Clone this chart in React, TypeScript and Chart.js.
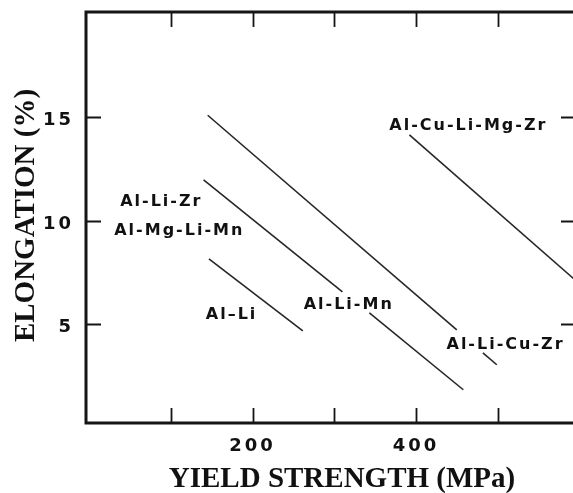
import { useEffect, useRef } from "react";
import { Chart, registerables } from "chart.js";
Chart.register(...registerables);

// Trend lines: yield strength (MPa) vs elongation (%)
const alCuLiMgZrX = [392, 600];
const alCuLiMgZrY = [14.15, 6.95];
const alLiCuZrX = [145, 450];
const alLiCuZrY = [15.1, 4.71];
const alLiCuZrTailX = [482, 499];
const alLiCuZrTailY = [3.6, 3.02];
const alLiZrX = [140, 310];
const alLiZrY = [11.97, 6.55];
const alLiMnX = [343, 458];
const alLiMnY = [5.53, 1.81];
const alLiX = [146.5, 261.5];
const alLiY = [8.15, 4.66];

// Curve labels (anchored in data units)
const labelTexts = ["Al-Cu-Li-Mg-Zr", "Al-Li-Zr", "Al-Mg-Li-Mn", "Al\u2013Li", "Al-Li-Mn", "Al-Li-Cu-Zr"];
const labelX = [463, 87, 109, 173, 316.5, 508.5];
const labelY = [14.68, 11.0, 9.6, 5.53, 6.02, 4.04];

// Axes
const xMin = -4;
const xMax = 596;
const yMin = 0.2;
const yMax = 20.1;
const xTickValues = [100, 200, 300, 400, 500];
const xTickLabels = ["", "200", "", "400", ""];
const yTickValues = [5, 10, 15];
const yTickLabels = ["5", "10", "15"];
const xTitle = "YIELD STRENGTH (MPa)";
const yTitle = "ELONGATION (%)";

function pts(xs: number[], ys: number[]) {
  return xs.map((x, i) => ({ x, y: ys[i] }));
}

function textWidth(ctx: CanvasRenderingContext2D, text: string, ls: number) {
  let w = 0;
  const chars = Array.from(text);
  chars.forEach((ch, i) => {
    w += ctx.measureText(ch).width + (i < chars.length - 1 ? ls : 0);
  });
  return w;
}

function drawSpaced(ctx: CanvasRenderingContext2D, text: string, x: number, y: number, ls: number) {
  let cx = x;
  Array.from(text).forEach((ch) => {
    ctx.fillText(ch, cx, y);
    cx += ctx.measureText(ch).width + ls;
  });
}

const framePlugin = {
  id: "framePlugin",
  afterDraw(chart: any) {
    const ctx: CanvasRenderingContext2D = chart.ctx;
    const { left, right, top, bottom } = chart.chartArea;
    const xs = chart.scales.x;
    const ys = chart.scales.y;
    ctx.save();
    ctx.textAlign = "left";
    ctx.textBaseline = "alphabetic";
    // frame
    ctx.strokeStyle = "#151515";
    ctx.lineWidth = 3;
    ctx.strokeRect(left, top, right - left, bottom - top);
    // inward ticks
    ctx.lineWidth = 1.8;
    const tl = 15;
    ctx.beginPath();
    xTickValues.forEach((v) => {
      const px = Math.round(xs.getPixelForValue(v)) + 0.5;
      ctx.moveTo(px, bottom);
      ctx.lineTo(px, bottom - tl);
      ctx.moveTo(px, top);
      ctx.lineTo(px, top + tl);
    });
    yTickValues.forEach((v) => {
      const py = Math.round(ys.getPixelForValue(v)) + 0.5;
      ctx.moveTo(left, py);
      ctx.lineTo(left + tl, py);
      ctx.moveTo(right, py);
      ctx.lineTo(right - tl, py);
    });
    ctx.stroke();

    ctx.fillStyle = "#111";
    // tick labels
    ctx.font = "bold 18px 'DejaVu Sans'";
    const tls = 3;
    yTickValues.forEach((v, i) => {
      const t = yTickLabels[i];
      const w = textWidth(ctx, t, tls);
      drawSpaced(ctx, t, left - 15 - w, ys.getPixelForValue(v) + 8, tls);
    });
    xTickValues.forEach((v, i) => {
      const t = xTickLabels[i];
      if (!t) return;
      const w = textWidth(ctx, t, tls);
      drawSpaced(ctx, t, xs.getPixelForValue(v) - 1.5 - w / 2, bottom + 28, tls);
    });

    // curve labels
    ctx.font = "bold 16px 'DejaVu Sans'";
    const lls = 2;
    labelTexts.forEach((t, i) => {
      const w = textWidth(ctx, t, lls);
      const cx = xs.getPixelForValue(labelX[i]);
      const cy = ys.getPixelForValue(labelY[i]);
      drawSpaced(ctx, t, cx - w / 2, cy + 5.8, lls);
    });

    // axis titles
    ctx.font = "bold 29px 'Liberation Serif'";
    ctx.textAlign = "center";
    ctx.fillText(xTitle, left + 256, bottom + 64);
    ctx.save();
    ctx.translate(left - 52, top + 203.5);
    ctx.rotate(-Math.PI / 2);
    ctx.fillText(yTitle, 0, 0);
    ctx.restore();
    ctx.restore();
  },
};

export default function App() {
  const ref = useRef<HTMLCanvasElement | null>(null);
  useEffect(() => {
    if (!ref.current) return;
    const line = (data: { x: number; y: number }[]) => ({
      data,
      borderColor: "#262626",
      borderWidth: 1.6,
      pointRadius: 0,
      fill: false,
      tension: 0,
    });
    const chart = new Chart(ref.current, {
      type: "line",
      data: {
        datasets: [
          line(pts(alCuLiMgZrX, alCuLiMgZrY)),
          line(pts(alLiCuZrX, alLiCuZrY)),
          line(pts(alLiCuZrTailX, alLiCuZrTailY)),
          line(pts(alLiZrX, alLiZrY)),
          line(pts(alLiMnX, alLiMnY)),
          line(pts(alLiX, alLiY)),
        ],
      },
      options: {
        animation: false,
        responsive: false,
        devicePixelRatio: 1,
        layout: { padding: { left: 86, top: 12, right: 24, bottom: 70 } },
        plugins: { legend: { display: false }, tooltip: { enabled: false } },
        events: [],
        scales: {
          x: { type: "linear", min: xMin, max: xMax, display: false },
          y: { type: "linear", min: yMin, max: yMax, display: false },
        },
      },
      plugins: [framePlugin],
    } as any);
    return () => chart.destroy();
  }, []);
  return (
    <div style={{ position: "fixed", left: 0, top: 0, width: 600, height: 493, background: "#fff" }}>
      <canvas ref={ref} width={600} height={493} />
    </div>
  );
}
